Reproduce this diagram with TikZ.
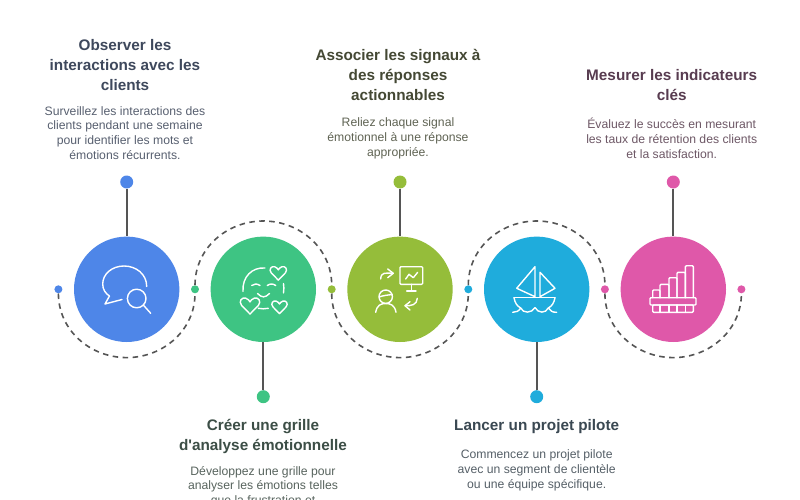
\documentclass[tikz,border=0pt]{standalone}
\usepackage{fontspec}
\setmainfont{Liberation Sans}
\newfontfamily\rawf{Liberation Sans}
\definecolor{cA}{HTML}{4E86E8}
\definecolor{cB}{HTML}{3EC483}
\definecolor{cC}{HTML}{95BD3A}
\definecolor{cD}{HTML}{1FACDC}
\definecolor{cE}{HTML}{DF58A9}
\definecolor{lineC}{HTML}{555555}
\definecolor{tA}{HTML}{3E485C}
\definecolor{bA}{HTML}{586070}
\definecolor{tB}{HTML}{3C4E46}
\definecolor{bB}{HTML}{58645E}
\definecolor{tC}{HTML}{444834}
\definecolor{bC}{HTML}{606454}
\definecolor{tD}{HTML}{3A4852}
\definecolor{bD}{HTML}{566068}
\definecolor{tE}{HTML}{583C50}
\definecolor{bE}{HTML}{6E5866}
\tikzset{
 big/.style={circle,minimum size=105.4pt,inner sep=0pt,fill=#1},
 pin/.style={circle,minimum size=13pt,inner sep=0pt,fill=#1},
 dot/.style={circle,minimum size=8pt,inner sep=0pt,fill=#1},
 stem/.style={draw=lineC,line width=1.9pt},
 wave/.style={draw=lineC,line width=1.6pt,dash pattern=on 5.5pt off 4.5pt},
 ic/.style={draw=white,line width=1.4pt,line cap=round,line join=round},
 ttl/.style={align=center,text=#1,font=\rawf\fontsize{15.3}{19.6}\selectfont\bfseries,inner sep=0pt},
 bdy/.style={align=center,text=#1,font=\rawf\fontsize{12.2}{14.9}\selectfont,inner sep=0pt},
}
\newcommand{\myheart}[3]{% cx cy halfwidth
 \draw[ic,shift={(#1,#2)},x=#3pt,y=-#3pt] (0,0.95) -- (-0.88,0.05) .. controls (-1.25,-0.4) and (-0.85,-0.85) .. (-0.45,-0.72) .. controls (-0.2,-0.65) and (-0.08,-0.45) .. (0,-0.33) .. controls (0.08,-0.45) and (0.2,-0.65) .. (0.45,-0.72) .. controls (0.85,-0.85) and (1.25,-0.4) .. (0.88,0.05) -- cycle;}
\begin{document}
\begin{tikzpicture}[x=1pt,y=-1pt]
\useasboundingbox (0,0) rectangle (800,500);
\clip (0,0) rectangle (800,500);
\fill[white] (0,0) rectangle (800,500);
% circles
\node[big=cA] (c1) at (126.7,289.3) {};
\node[big=cB] (c2) at (263.3,289.3) {};
\node[big=cC] (c3) at (400,289.3) {};
\node[big=cD] (c4) at (536.7,289.3) {};
\node[big=cE] (c5) at (673.3,289.3) {};
% dots on the wave
\coordinate (w1) at (126.7,357.6);
\coordinate (w2) at (263.3,221);
\coordinate (w3) at (400,357.6);
\coordinate (w4) at (536.7,221);
\coordinate (w5) at (673.3,357.6);
\node[dot=cA] (d0) at (58.4,289.3) {};
\node[dot=cB] (d1) at (195,289.3) {};
\node[dot=cC] (d2) at (331.7,289.3) {};
\node[dot=cD] (d3) at (468.3,289.3) {};
\node[dot=cE] (d4) at (604.9,289.3) {};
\node[dot=cE] (d5) at (741.4,289.3) {};
\draw[wave] (d0) to[out=-90,in=180] (w1) to[out=0,in=-90] (d1);
\draw[wave] (d1) to[out=90,in=180] (w2) to[out=0,in=90] (d2);
\draw[wave] (d2) to[out=-90,in=180] (w3) to[out=0,in=-90] (d3);
\draw[wave] (d3) to[out=90,in=180] (w4) to[out=0,in=90] (d4);
\draw[wave] (d4) to[out=-90,in=180] (w5) to[out=0,in=-90] (d5);
% pins
\node[pin=cA] (p1) at (126.7,182) {};
\node[pin=cB] (p2) at (263.3,396.7) {};
\node[pin=cC] (p3) at (400,182) {};
\node[pin=cD] (p4) at (536.7,396.7) {};
\node[pin=cE] (p5) at (673.3,182) {};
\draw[stem] (p1) -- (c1);
\draw[stem] (p2) -- (c2);
\draw[stem] (p3) -- (c3);
\draw[stem] (p4) -- (c4);
\draw[stem] (p5) -- (c5);
% icon 1
\draw[ic] (146.7,286.5) .. controls (146.7,274) and (136,266) .. (124,266) .. controls (112,266) and (102.7,274) .. (102.7,284) .. controls (102.7,289.5) and (105.5,293.5) .. (109.5,296) -- (105,304) -- (122,299.5);
\draw[ic] (136.7,298.5) circle (9.3pt);
\draw[ic] (143.3,305) -- (150.7,313.3);
% icon 2
\draw[ic] (265,268) .. controls (252,267) and (242,277) .. (243,291.5);
\draw[ic] (283.5,283.5) .. controls (284,286.5) and (284,289.5) .. (283.5,293);
\draw[ic] (258.3,308.3) .. controls (261.5,309) and (265,309) .. (268.3,308.3);
\draw[ic] (251.7,285.5) .. controls (254,283.5) and (257,283.5) .. (260,285.5);
\draw[ic] (267.3,285.5) .. controls (270,283.5) and (273,283.5) .. (275.7,285.5);
\draw[ic] (257.5,293.5) .. controls (262,298) and (265,298) .. (269.5,293.5);
\myheart{278.3}{272.5}{8}
\myheart{250}{305}{9.5}
\myheart{279.5}{306.5}{7.5}
% icon 3
\draw[ic,rounded corners=1pt] (400,266.7) rectangle (422.7,284.3);
\draw[ic] (411.3,284.3) -- (411.3,291) (406.7,291) -- (416,291);
\draw[ic] (405.7,279) -- (409,274.3) -- (413.3,277.7) -- (417.7,272.3);
\draw[ic] (380.7,279) .. controls (381,272) and (385,273) .. (393,273.3);
\draw[ic] (387.7,269) -- (393.3,273.3) -- (387.7,277.7);
\draw[ic] (417.3,298.3) .. controls (417,305) and (411,306) .. (405,305.7);
\draw[ic] (410,301.7) -- (405,305.7) -- (410,310);
\draw[ic] (385.7,296.7) circle (6.7pt);
\draw[ic] (379.2,297) .. controls (383,295.5) and (388,295) .. (392.3,294.5);
\draw[ic] (375.7,312.3) .. controls (377,305) and (381,303.5) .. (385.7,303.5) .. controls (390.5,303.5) and (394.7,305) .. (396,312.3);
% icon 4
\draw[ic] (535,266.7) -- (535,296.7) -- (516.7,288.3) -- cycle;
\draw[ic] (540,272.3) -- (540,296.7) -- (555,288.3) -- cycle;
\draw[ic] (514,297.7) -- (555,297.7);
\draw[ic] (514,297.7) .. controls (515,303) and (517,306) .. (520.7,308);
\draw[ic] (555,297.7) .. controls (554,303) and (552,306) .. (548.3,308);
\draw[ic] (512.7,312.3) .. controls (516,312.5) and (519,311) .. (520.7,308) .. controls (523,313.5) and (531.5,313.5) .. (535,307.7) .. controls (538.5,313.5) and (545.5,313.5) .. (548.3,308) .. controls (550,311) and (553,312.5) .. (556.7,312.3);
% icon 5
\draw[ic,rounded corners=1pt] (652.7,297.7) -- (652.7,290) -- (660,290) -- (660,297.7);
\draw[ic,rounded corners=1pt] (660,297.7) -- (660,284.3) -- (669,284.3) -- (669,297.7);
\draw[ic,rounded corners=1pt] (669,297.7) -- (669,277.7) -- (677,277.7) -- (677,297.7);
\draw[ic,rounded corners=1pt] (677,297.7) -- (677,272.3) -- (685.3,272.3) -- (685.3,297.7);
\draw[ic,rounded corners=1pt] (685.3,297.7) -- (685.3,265.7) -- (693.3,265.7) -- (693.3,297.7);
\draw[ic,rounded corners=1pt] (650,297.7) rectangle (696,305);
\draw[ic,rounded corners=1pt] (652.7,305) rectangle (693.3,312.3);
\draw[ic] (660,305) -- (660,312.3) (669,305) -- (669,312.3) (677,305) -- (677,312.3) (685.3,305) -- (685.3,312.3);
% texts
\node[ttl=tA] (t1) at (125,65) {Observer les\\interactions avec les\\clients};
\node[bdy=bA] (b1) at (125,133) {Surveillez les interactions des\\clients pendant une semaine\\pour identifier les mots et\\émotions récurrents.};
\node[ttl=tB] (t2) at (263,436.3) {Créer une grille\\d'analyse émotionnelle};
\node[bdy=bB] (b2) at (263,486.7) {Développez une grille pour\\analyser les émotions telles\\que la frustration et};
\node[ttl=tC] (t3) at (398,75) {Associer les signaux à\\des réponses\\actionnables};
\node[bdy=bC] (b3) at (398,138.3) {Reliez chaque signal\\émotionnel à une réponse\\appropriée.};
\node[ttl=tD] (t4) at (536.7,426.7) {Lancer un projet pilote};
\node[bdy=bD] (b4) at (536.7,470) {Commencez un projet pilote\\avec un segment de clientèle\\ou une équipe spécifique.};
\node[ttl=tE] (t5) at (671.7,85) {Mesurer les indicateurs\\clés};
\node[bdy=bE] (b5) at (671.7,138.3) {Évaluez le succès en mesurant\\les taux de rétention des clients\\et la satisfaction.};
\end{tikzpicture}
\end{document}
